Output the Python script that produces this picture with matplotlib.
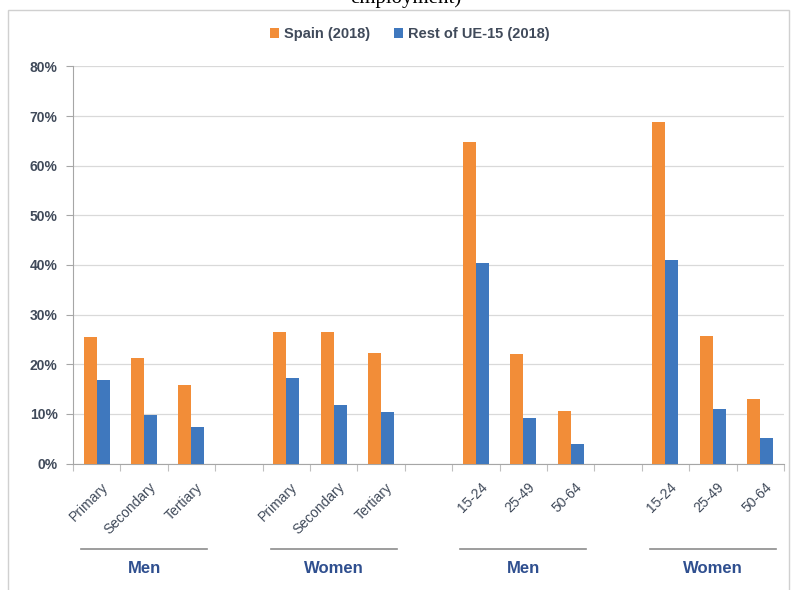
import matplotlib.pyplot as plt
import numpy as np
from matplotlib.patches import Rectangle
from matplotlib.ticker import FuncFormatter, MultipleLocator

# unemployment rates (%), Spain vs rest of UE-15, 2018
categories = [
    "Primary", "Secondary", "Tertiary", "",
    "Primary", "Secondary", "Tertiary", "",
    "15-24", "25-49", "50-64", "",
    "15-24", "25-49", "50-64",
]
spain = [25.5, 21.3, 15.9, np.nan, 26.4, 26.4, 22.2, np.nan,
         64.8, 22.1, 10.6, np.nan, 68.8, 25.6, 13.0]
rest_ue15 = [16.8, 9.7, 7.3, np.nan, 17.3, 11.7, 10.3, np.nan,
             40.4, 9.2, 3.9, np.nan, 41.1, 11.0, 5.2]
group_names = ["Men", "Women", "Men", "Women"]
group_centres = [1, 5, 9, 13]

orange = "#F28D38"
blue = "#3F78BE"
label_col = "#404a5a"
group_col = "#2F4F8F"

plt.rcParams["font.family"] = ["Liberation Sans", "DejaVu Sans"]

fig = plt.figure(figsize=(7.93, 5.90), dpi=100)
ax = fig.add_axes([0.092, 0.2144, 0.8966, 0.6729])

x = np.arange(len(categories))
w = 0.275
ax.bar(x - w / 2, spain, w, color=orange, label="Spain (2018)", zorder=3)
ax.bar(x + w / 2, rest_ue15, w, color=blue, label="Rest of UE-15 (2018)", zorder=3)

ax.set_xlim(-0.5, len(categories) - 0.5)
ax.set_ylim(0, 80)
ax.yaxis.set_major_locator(MultipleLocator(10))
ax.yaxis.set_major_formatter(FuncFormatter(lambda v, _: f"{v:.0f}%"))
ax.grid(axis="y", color="#D9D9D9", linewidth=0.9, zorder=0)

for side in ["top", "right"]:
    ax.spines[side].set_visible(False)
ax.spines["left"].set_color("#A6A6A6")
ax.spines["bottom"].set_color("#A6A6A6")

# category ticks sit between the bars, labels under the bars
ax.set_xticks(np.arange(-0.5, len(categories)), minor=False)
ax.set_xticklabels([])
ax.tick_params(axis="x", which="major", length=5, color="#BFBFBF")
ax.set_xticks(x + 0.09, minor=True)
ax.set_xticklabels(categories, minor=True, rotation=45, ha="right",
                   rotation_mode="anchor", fontsize=10, color=label_col)
ax.tick_params(axis="x", which="minor", length=0, pad=12)
ax.tick_params(axis="y", length=5, color="#A6A6A6", labelsize=10,
               labelcolor=label_col, pad=6)
for t in ax.get_yticklabels():
    t.set_fontweight("bold")

# group brackets under the tick labels
trans = ax.get_xaxis_transform()
for name, c in zip(group_names, group_centres):
    ax.plot([c - 1.33, c + 1.33], [-0.215, -0.215], color="#8C8C8C",
            linewidth=1.2, transform=trans, clip_on=False)
    ax.text(c, -0.264, name, transform=trans, ha="center", va="center",
            fontsize=12, fontweight="bold", color=group_col)

fig.legend(loc="center", bbox_to_anchor=(0.517, 0.942), ncol=2, frameon=False,
           handlelength=0.6, handleheight=0.6,
           columnspacing=1.6, handletextpad=0.4,
           prop={"weight": "bold", "size": 10.5})
for t in fig.legends[0].get_texts():
    t.set_color(label_col)

# chart frame and the tail of the caption above it
fig.patches.append(Rectangle((0.010, -0.01), 0.985, 0.993,
                             transform=fig.transFigure, fill=False,
                             edgecolor="#D0D0D0", linewidth=1.0))
fig.text(0.512, 1.004, "employment)", ha="center", va="center",
         fontsize=15, family="Liberation Serif", color="black")

fig.savefig("out.png", dpi=100)
